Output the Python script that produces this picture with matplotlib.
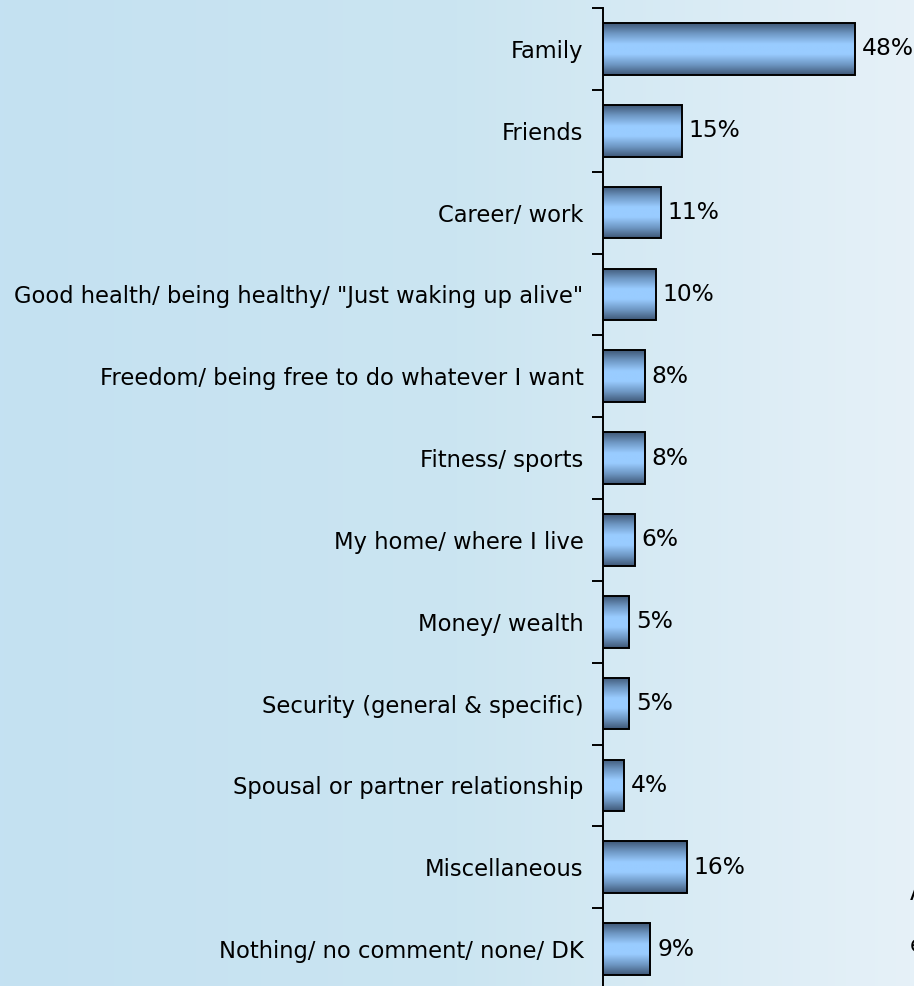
import matplotlib
matplotlib.use("Agg")
import matplotlib.pyplot as plt
import numpy as np
from matplotlib.colors import LinearSegmentedColormap

categories = [
    "Family",
    "Friends",
    "Career/ work",
    'Good health/ being healthy/ "Just waking up alive"',
    "Freedom/ being free to do whatever I want",
    "Fitness/ sports",
    "My home/ where I live",
    "Money/ wealth",
    "Security (general & specific)",
    "Spousal or partner relationship",
    "Miscellaneous",
    "Nothing/ no comment/ none/ DK",
]
values = [48, 15, 11, 10, 8, 8, 6, 5, 5, 4, 16, 9]

W, H = 914, 986
fig = plt.figure(figsize=(W / 100, H / 100), dpi=100)

# background gradient, left to right
bg = fig.add_axes([0, 0, 1, 1], zorder=0)
bg_cmap = LinearSegmentedColormap.from_list("bg", ["#c4e1f2", "#cbe5f1", "#e6f1f8"])
bg.imshow(np.linspace(0, 1, 256).reshape(1, -1), aspect="auto", cmap=bg_cmap,
          extent=[0, 1, 0, 1])
bg.set_axis_off()

# plot axes: axis line at x=603 px, category band 81.8 px starting at y=8 px
left = 603 / W
top = 8 / H
bottom = (H - 990) / H
ax = fig.add_axes([left, bottom, 1 - left, 1 - top - bottom], zorder=1)
ax.patch.set_alpha(0)

n = len(categories)
ypos = np.arange(n)
bar_h = 0.63
bars = ax.barh(ypos, values, height=bar_h, color="none", edgecolor="black",
               linewidth=1.4, zorder=3)

bar_cmap = LinearSegmentedColormap.from_list(
    "bar", ["#3f5877", "#6f98c4", "#99ccff", "#99ccff", "#6f98c4", "#3f5877"])
grad = np.linspace(0, 1, 128).reshape(-1, 1)
for b in bars:
    x0, y0 = b.get_x(), b.get_y()
    im = ax.imshow(grad, aspect="auto", cmap=bar_cmap, interpolation="bilinear",
                   extent=[x0, x0 + b.get_width(), y0 + b.get_height(), y0], zorder=2)
    im.set_clip_path(b)

for y, v in zip(ypos, values):
    ax.text(v + 1.3, y, f"{v}%", va="center", ha="left", fontsize=16.8,
            family="DejaVu Sans")

ax.set_xlim(0, (W - 603) / 5.25)
ax.set_ylim(n - 0.5, -0.5)

ax.set_yticks(ypos)
ax.set_yticklabels(categories, fontsize=16.3, family="DejaVu Sans")
ax.tick_params(axis="y", which="major", length=0, pad=14)
ax.set_yticks(np.arange(n + 1) - 0.5, minor=True)
ax.tick_params(axis="y", which="minor", length=8, width=1.4, direction="out")
ax.set_xticks([])

for s in ["top", "right", "bottom"]:
    ax.spines[s].set_visible(False)
ax.spines["left"].set_linewidth(1.4)

# partial text cut off at the right edge, as in the source
fig.text(910 / W, 1 - 893 / H, "A", fontsize=16.3, va="center", ha="left")
fig.text(910 / W, 1 - 946 / H, "e", fontsize=16.3, va="center", ha="left")

fig.savefig("out.png", dpi=100)
